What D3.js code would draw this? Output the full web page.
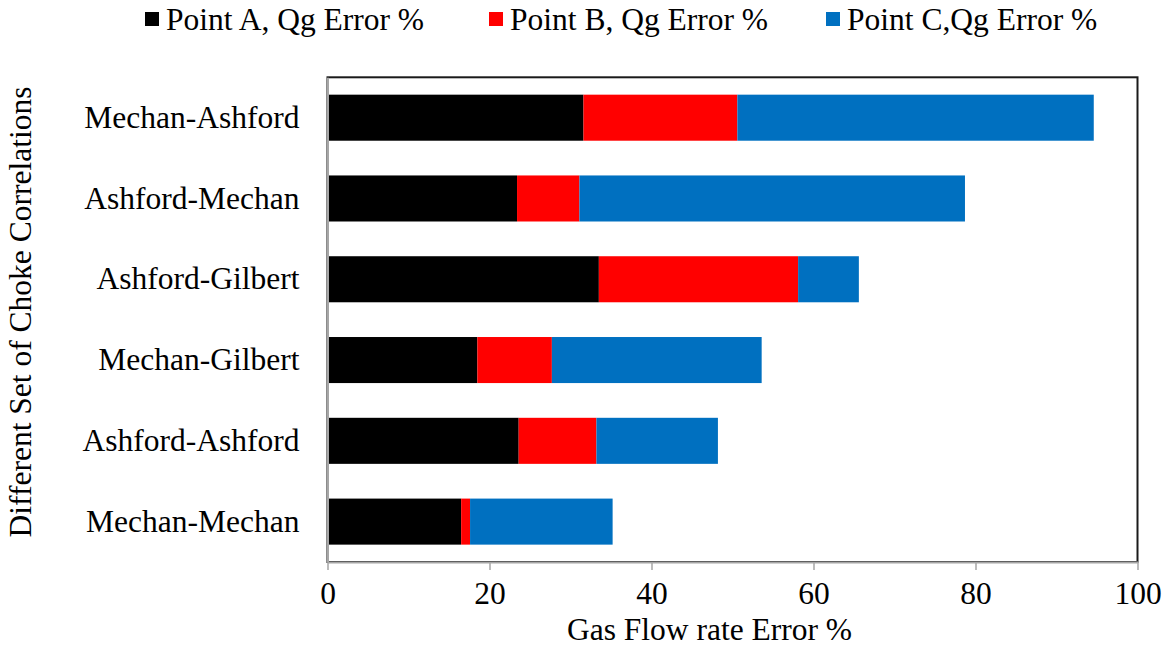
<!DOCTYPE html>
<html>
<head>
<meta charset="utf-8">
<script src="https://cdn.jsdelivr.net/npm/d3@7"></script>
<style>
  html, body { margin: 0; padding: 0; background: #fff; }
  svg { display: block; }
  svg text { font-family: "Liberation Serif", Tinos, "Times New Roman", Times, "DejaVu Serif", serif !important; fill: #000; }
</style>
</head>
<body>
<svg id="chart" width="1168" height="648"></svg>
<script>
// Choke correlation pairs, top to bottom
const categories = ["Mechan-Ashford", "Ashford-Mechan", "Ashford-Gilbert", "Mechan-Gilbert", "Ashford-Ashford", "Mechan-Mechan"];
// Gas flow rate error (%) at each measurement point
const pointA = [31.6, 23.4, 33.5, 18.5, 23.6, 16.5];
const pointB = [19.0, 7.7, 24.6, 9.2, 9.6, 1.1];
const pointC = [44.0, 47.6, 7.5, 25.9, 15.0, 17.6];
const seriesNames = ["Point A, Qg Error %", "Point B, Qg Error %", "Point C,Qg Error %"];
const seriesColors = ["#000000", "#FF0000", "#0070C0"];
const xTicks = [0, 20, 40, 60, 80, 100];

const svg = d3.select("#chart");
const plot = { left: 327.5, right: 1137.5, top: 77.3, bottom: 562 };
const fontSize = 31.5;

const x = d3.scaleLinear().domain([0, 100]).range([plot.left, plot.right]);
const y = d3.scaleBand().domain(categories).range([plot.top, plot.bottom])
  .paddingInner(0.43).paddingOuter(0.215);

// stacked layout
const rows = categories.map((c, i) => ({ cat: c, a: pointA[i], b: pointB[i], c: pointC[i] }));
const layers = d3.stack().keys(["a", "b", "c"])(rows);

// plot area border
svg.append("rect")
  .attr("x", plot.left).attr("y", plot.top)
  .attr("width", plot.right - plot.left).attr("height", plot.bottom - plot.top)
  .attr("fill", "none").attr("stroke", "#1a1a1a").attr("stroke-width", 2);

// bars
svg.append("g").selectAll("g").data(layers).join("g")
  .attr("fill", (d, i) => seriesColors[i])
  .selectAll("rect").data(d => d).join("rect")
  .attr("x", d => x(d[0]))
  .attr("y", d => y(d.data.cat))
  .attr("width", d => x(d[1]) - x(d[0]))
  .attr("height", y.bandwidth());

// x axis
const xAxis = svg.append("g")
  .attr("transform", `translate(0,${plot.bottom})`)
  .call(d3.axisBottom(x).tickValues(xTicks).tickSize(8).tickPadding(12).tickSizeOuter(0));
xAxis.attr("font-family", null).attr("font-size", fontSize);
xAxis.select(".domain").attr("stroke", "#A6A6A6").attr("stroke-width", 2);
xAxis.selectAll(".tick line").attr("stroke", "#A6A6A6").attr("stroke-width", 1.5);
xAxis.selectAll(".tick text").attr("fill", "#000").attr("dy", "0.71em");

// y axis
const yAxis = svg.append("g")
  .attr("transform", `translate(${plot.left},0)`)
  .call(d3.axisLeft(y).tickSize(0).tickPadding(28));
yAxis.attr("font-family", null).attr("font-size", fontSize);
yAxis.select(".domain").attr("stroke", "#A6A6A6").attr("stroke-width", 2);
yAxis.selectAll(".tick text").attr("fill", "#000");

// axis titles
svg.append("text")
  .attr("x", 709.5).attr("y", 640)
  .attr("text-anchor", "middle").attr("font-size", fontSize)
  .text("Gas Flow rate Error %");

svg.append("text")
  .attr("transform", "translate(31,312) rotate(-90)")
  .attr("text-anchor", "middle").attr("font-size", fontSize)
  .text("Different Set of Choke Correlations");

// legend
const legendX = [145, 489, 826];
const legend = svg.append("g").selectAll("g").data(seriesNames).join("g")
  .attr("transform", (d, i) => `translate(${legendX[i]},0)`);
legend.append("rect")
  .attr("x", 0).attr("y", 12).attr("width", 14).attr("height", 14)
  .attr("fill", (d, i) => seriesColors[i]);
legend.append("text")
  .attr("x", 21).attr("y", 30)
  .attr("font-size", fontSize)
  .text(d => d);
</script>
</body>
</html>
